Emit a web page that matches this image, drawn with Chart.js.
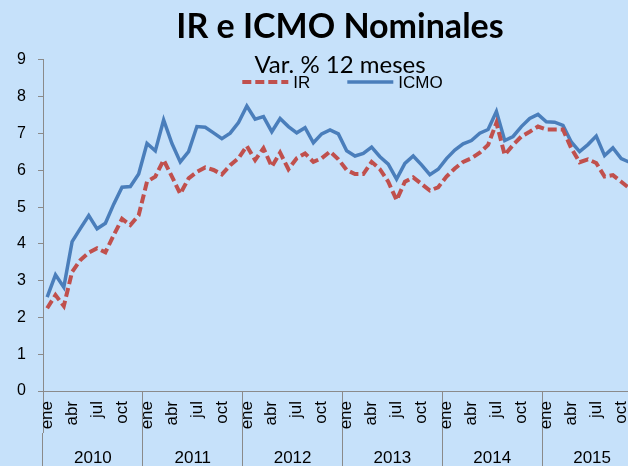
<!DOCTYPE html>
<html lang="es">
<head>
<meta charset="utf-8">
<title>IR e ICMO Nominales</title>
<script src="https://cdn.jsdelivr.net/npm/chart.js@4.4.1/dist/chart.umd.min.js"></script>
<style>
  html, body { margin: 0; padding: 0; overflow: hidden; background: #c6e1fa; }
  #marco { position: relative; width: 680px; height: 480px; }
</style>
</head>
<body>
<div id="marco"><canvas id="grafico" width="680" height="480"></canvas></div>
<script>
// Var. % 12 meses, ene 2010 - nov 2015
const anios = ['2010', '2011', '2012', '2013', '2014', '2015'];
const meses = ['ene', 'feb', 'mar', 'abr', 'may', 'jun', 'jul', 'ago', 'sep', 'oct', 'nov', 'dic'];

const valoresIR = [
  2.25, 2.61, 2.31, 3.24, 3.56, 3.76, 3.88, 3.77, 4.24, 4.68, 4.51, 4.78,
  5.69, 5.83, 6.28, 5.83, 5.36, 5.78, 5.96, 6.08, 6.01, 5.89, 6.14, 6.33,
  6.66, 6.28, 6.60, 6.10, 6.48, 6.03, 6.33, 6.46, 6.23, 6.33, 6.51, 6.30,
  6.01, 5.90, 5.90, 6.23, 6.03, 5.69, 5.19, 5.69, 5.81, 5.63, 5.45, 5.54,
  5.83, 6.05, 6.23, 6.33, 6.48, 6.69, 7.29, 6.42, 6.69, 6.92, 7.05, 7.19,
  7.11, 7.11, 7.11, 6.60, 6.22, 6.30, 6.20, 5.83, 5.87, 5.69, 5.51
];

const valoresICMO = [
  2.55, 3.16, 2.82, 4.06, 4.42, 4.77, 4.41, 4.56, 5.08, 5.54, 5.56, 5.90,
  6.73, 6.53, 7.37, 6.73, 6.23, 6.51, 7.19, 7.17, 7.02, 6.86, 7.01, 7.30,
  7.75, 7.39, 7.46, 7.05, 7.41, 7.19, 7.02, 7.16, 6.75, 6.99, 7.10, 6.99,
  6.53, 6.39, 6.46, 6.63, 6.37, 6.17, 5.76, 6.19, 6.39, 6.15, 5.88, 6.03,
  6.32, 6.55, 6.72, 6.81, 7.01, 7.11, 7.60, 6.81, 6.92, 7.19, 7.41, 7.52,
  7.32, 7.31, 7.22, 6.77, 6.51, 6.70, 6.93, 6.40, 6.61, 6.32, 6.22
];

const ticksY = [0, 1, 2, 3, 4, 5, 6, 7, 8, 9];

// etiquetas mensuales (todas las de los años)
const etiquetas = [];
anios.forEach(a => meses.forEach(m => etiquetas.push(m + ' ' + a)));

const GRIS = '#8a8a8a';
const fuenteEjes = "'Liberation Sans', Arial, sans-serif";
const fuenteTitulo = "Lato, 'Open Sans', sans-serif";

// Leyenda dibujada dentro del área del gráfico (como en Excel)
const leyendaInterna = {
  id: 'leyendaInterna',
  afterDatasetsDraw(chart) {
    const { ctx, chartArea } = chart;
    const series = chart.data.datasets;
    const largoLinea = 46, sepTexto = 5, hueco = 37;
    ctx.save();
    ctx.font = '17px ' + fuenteEjes;
    ctx.textBaseline = 'middle';
    const anchos = series.map(d => largoLinea + sepTexto + ctx.measureText(d.label).width);
    const total = anchos.reduce((a, b) => a + b, 0) + hueco * (series.length - 1);
    let x = (chartArea.left + chartArea.right) / 2 - total / 2;
    const y = chartArea.top + 22;
    series.forEach((d, i) => {
      ctx.beginPath();
      ctx.strokeStyle = d.borderColor;
      ctx.lineWidth = d.borderWidth;
      ctx.setLineDash(d.borderDash || []);
      ctx.moveTo(x, y);
      ctx.lineTo(x + largoLinea, y);
      ctx.stroke();
      ctx.setLineDash([]);
      ctx.fillStyle = '#000';
      ctx.fillText(d.label, x + largoLinea + sepTexto, y + 1);
      x += anchos[i] + hueco;
    });
    ctx.restore();
  }
};

const ctx = document.getElementById('grafico').getContext('2d');

new Chart(ctx, {
  type: 'line',
  data: {
    labels: etiquetas,
    datasets: [
      {
        label: 'IR',
        data: valoresIR,
        borderColor: '#c0504d',
        backgroundColor: '#c0504d',
        borderWidth: 4,
        borderDash: [9, 4],
        pointRadius: 0,
        tension: 0
      },
      {
        label: 'ICMO',
        data: valoresICMO,
        borderColor: '#4a7ebb',
        backgroundColor: '#4a7ebb',
        borderWidth: 3.5,
        pointRadius: 0,
        tension: 0
      }
    ]
  },
  plugins: [leyendaInterna],
  options: {
    responsive: false,
    animation: false,
    devicePixelRatio: 1,
    layout: { padding: { left: 17, right: 17, top: 0, bottom: 0 } },
    plugins: {
      title: {
        display: true,
        text: 'IR e ICMO Nominales',
        color: '#000',
        font: { family: fuenteTitulo, size: 34, weight: 'bold', lineHeight: 1.2 },
        padding: { top: 6.6, bottom: 0 }
      },
      subtitle: {
        display: true,
        text: 'Var. % 12 meses',
        color: '#000',
        font: { family: fuenteTitulo, size: 24, lineHeight: 1.2 },
        padding: { top: 3.4, bottom: -19.6 }
      },
      legend: { display: false },
      tooltip: { enabled: false }
    },
    scales: {
      x: {
        type: 'category',
        offset: true,
        weight: 0,
        afterFit: (s) => { s.height = 42; },
        border: { display: true, color: GRIS, width: 1 },
        grid: {
          offset: true,
          drawOnChartArea: false,
          tickLength: 42,
          color: (c) => (c.index % 12 === 0 ? GRIS : 'rgba(0,0,0,0)')
        },
        ticks: {
          autoSkip: false,
          minRotation: 90,
          maxRotation: 90,
          padding: -32,
          color: '#000',
          font: { family: fuenteEjes, size: 17 },
          callback: (v, i) => (i % 3 === 0 ? meses[i % 12] : '')
        }
      },
      x2: {
        type: 'category',
        labels: anios,
        position: 'bottom',
        offset: true,
        weight: 1,
        afterFit: (s) => { s.height = 47; },
        border: { display: false },
        grid: {
          offset: true,
          drawOnChartArea: false,
          tickLength: 47,
          color: GRIS
        },
        ticks: {
          autoSkip: false,
          maxRotation: 0,
          padding: -32,
          color: '#000',
          font: { family: fuenteEjes, size: 17 }
        }
      },
      y: {
        min: 0,
        max: 9,
        afterFit: (s) => { s.width = 26; },
        afterBuildTicks: (s) => { s.ticks = ticksY.map(v => ({ value: v })); },
        border: { display: true, color: GRIS, width: 1 },
        grid: {
          drawOnChartArea: false,
          tickLength: 5,
          color: GRIS
        },
        ticks: {
          padding: 12,
          color: '#000',
          font: { family: fuenteEjes, size: 16 }
        }
      },
      // eje vacío a la derecha: sólo reserva el margen del gráfico original
      yDer: {
        type: 'linear',
        position: 'right',
        afterFit: (s) => { s.width = 21; },
        border: { display: false },
        grid: { display: false },
        ticks: { display: false }
      }
    }
  }
});
</script>
</body>
</html>
